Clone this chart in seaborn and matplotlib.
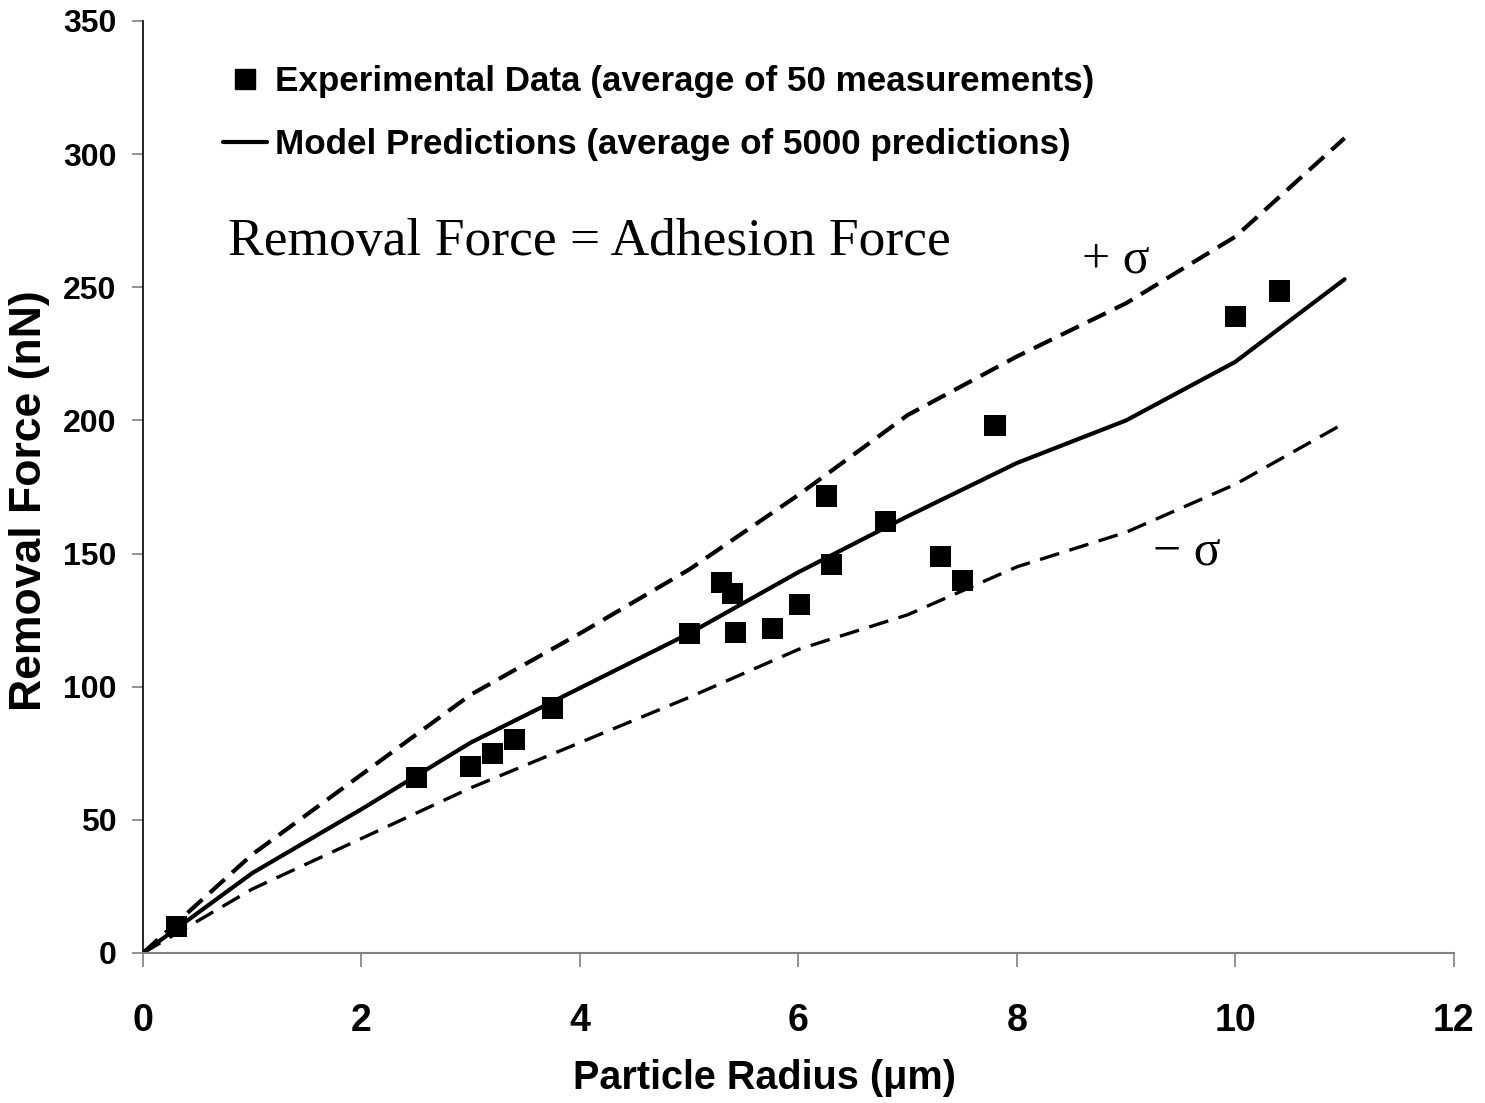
import matplotlib
matplotlib.use("Agg")
import matplotlib.pyplot as plt
import seaborn as sns
import pandas as pd
from matplotlib.lines import Line2D

# Experimental data
exp_radius = [0.31, 2.5, 3.0, 3.2, 3.4, 3.75, 5.0, 5.3, 5.4, 5.42, 5.76, 6.01, 6.26, 6.30, 6.8, 7.3, 7.5, 7.8, 10.0, 10.4]
exp_force = [9.8, 66, 70, 75, 80, 92, 120, 139, 135, 120.5, 122, 131, 171.6, 146, 162, 149, 140, 198, 239, 248.6]

# Model predictions
model_radius = [0, 1, 2, 3, 4, 5, 6, 7, 8, 9, 10, 11]
model_mean = [0, 30, 54, 79, 99.5, 120, 143, 164, 184, 200, 222, 253]
model_plus = [0, 37, 67, 97, 120, 144, 172, 202, 224, 244, 269, 306]
model_minus = [0, 24, 43, 62, 79, 96, 114, 127, 145, 158, 176, 199]

x_ticks = [0, 2, 4, 6, 8, 10, 12]
y_ticks = [0, 50, 100, 150, 200, 250, 300, 350]

sns.set_style("white")
plt.rcParams['font.family'] = ['Liberation Sans', 'DejaVu Sans']
plt.rcParams['text.color'] = 'black'
plt.rcParams['axes.labelcolor'] = 'black'

fig = plt.figure(figsize=(14.85, 11.03), dpi=100)
ax = fig.add_axes([0.0963, 0.136, 0.979 - 0.0963, 0.981 - 0.136])

df_exp = pd.DataFrame({"r": exp_radius, "f": exp_force})
df_mod = pd.DataFrame({"r": model_radius, "mean": model_mean, "plus": model_plus, "minus": model_minus})

sns.lineplot(data=df_mod, x="r", y="plus", ax=ax, color="black", lw=3.0,
             linestyle=(0, (4.8, 2.4)), sort=False)
sns.lineplot(data=df_mod, x="r", y="minus", ax=ax, color="black", lw=2.4,
             linestyle=(0, (6.0, 3.2)), sort=False)
sns.lineplot(data=df_mod, x="r", y="mean", ax=ax, color="black", lw=3.0, sort=False)
sns.scatterplot(data=df_exp, x="r", y="f", ax=ax, marker="s", s=230, color="black",
                edgecolor="none", zorder=5)

ax.set_xlim(0, 12)
ax.set_ylim(0, 350)
ax.set_xticks(x_ticks)
ax.set_yticks(y_ticks)
ax.set_xticklabels([str(t) for t in x_ticks], fontsize=27, fontweight="bold")
ax.set_yticklabels([str(t) for t in y_ticks], fontsize=23, fontweight="bold")
ax.tick_params(axis="x", direction="out", length=10, width=1.2, color="#808080",
               labelcolor="black", pad=26, bottom=True)
ax.tick_params(axis="y", direction="out", length=8, width=1.2, color="#808080",
               labelcolor="black", pad=11, left=True)

for s in ["top", "right"]:
    ax.spines[s].set_visible(False)
ax.spines["left"].set_color("black")
ax.spines["left"].set_linewidth(1.2)
ax.spines["bottom"].set_color("#808080")
ax.spines["bottom"].set_linewidth(1.5)

ax.set_xlabel("Particle Radius (\u03bcm)", fontsize=28.5, fontweight="bold")
ax.set_ylabel("Removal Force (nN)", fontsize=32, fontweight="bold")
ax.xaxis.set_label_coords(0.474, -0.114)
ax.yaxis.set_label_coords(-0.071, 0.485)

handles = [
    Line2D([], [], marker="s", linestyle="none", color="black", markersize=15),
    Line2D([], [], color="black", lw=3.0),
]
labels = ["Experimental Data (average of 50 measurements)",
          "Model Predictions (average of 5000 predictions)"]
leg = ax.legend(handles, labels, loc="upper left", bbox_to_anchor=(0.061, 0.953),
                frameon=False, prop={"family": "Liberation Sans", "weight": "bold", "size": 25.2},
                handlelength=1.26, handletextpad=0.23, labelspacing=0.87,
                borderaxespad=0, borderpad=0)

ax.text(0.065, 0.749, "Removal Force = Adhesion Force", transform=ax.transAxes,
        fontsize=38.5, family="Liberation Serif", ha="left", va="baseline")
ax.text(8.6, 255.7, "+ \u03c3", fontsize=36, family="Liberation Serif", ha="left", va="baseline")
ax.text(9.25, 146, "\u2212 \u03c3", fontsize=36, family="Liberation Serif", ha="left", va="baseline")

fig.savefig("out.png", dpi=100, facecolor="white")
